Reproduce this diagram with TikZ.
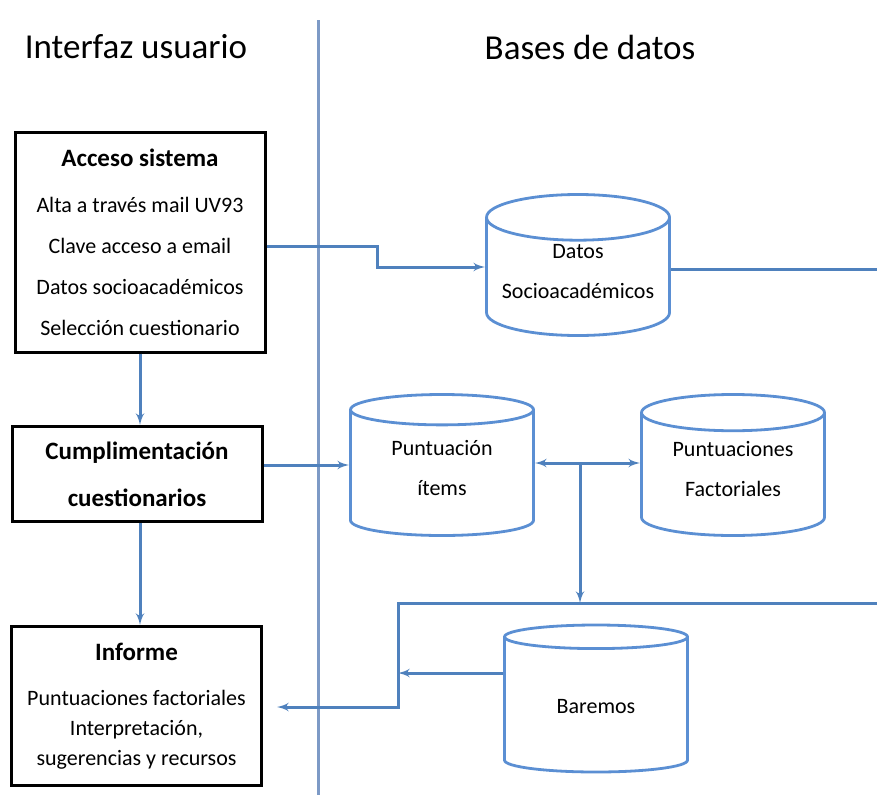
\documentclass[tikz,border=0pt]{standalone}
\usepackage{fontspec}
\setmainfont{Carlito}
\usepackage{tikz}
\usetikzlibrary{arrows}
\usetikzlibrary{shapes.geometric}

\definecolor{azul}{HTML}{4F81BD}
\definecolor{cilindro}{HTML}{5B8FD3}
\definecolor{divisor}{HTML}{7D9AC6}

\newcommand{\textobd}[2][1pt]{\raisebox{#1}[0pt][0pt]{\begin{tabular}{@{}c@{}}#2\end{tabular}}}

\begin{document}
\begin{tikzpicture}[x = 1pt, y = -1pt,
    caja/.style = {draw, line width = 3pt, minimum width = 250pt, inner sep = 0pt, align = center},
    bd/.style = {cylinder, shape border rotate = 90, aspect = 0.3, draw = cilindro, fill = white,
        line width = 2.8pt, minimum width = 183pt, minimum height = 141pt, inner sep = 0pt,
        anchor = shape center, font = \fontsize{22}{40}\selectfont},
    conector/.style = {draw = azul, line width = 3pt},
    flecha/.style = {conector, -latex'}]
    \useasboundingbox (0, 0) rectangle (877, 795);

    %% titulos
    \draw[divisor, line width = 3pt] (318, 20) -- (318, 795);
    \node[font = \fontsize{35}{40}\selectfont] (tusuario) at (136, 47) {Interfaz usuario};
    \node[font = \fontsize{35}{40}\selectfont] (tdatos) at (590, 47) {Bases de datos};

    %% interfaz
    \node[caja, minimum height = 220pt, font = \fontsize{22}{41}\selectfont] (acceso) at (140, 242)
        {\textbf{\fontsize{25}{30}\selectfont Acceso sistema}\\[5pt]
         Alta a través mail UV93\\ Clave acceso a email\\
         Datos socioacadémicos\\ Selección cuestionario};
    \node[caja, minimum height = 95pt, font = \fontsize{25}{47}\selectfont\bfseries] (cumpl) at (137, 474)
        {Cumplimentación\\ cuestionarios};
    \node[caja, minimum height = 159pt, font = \fontsize{22}{30}\selectfont] (informe) at (136.5, 706)
        {\textbf{\fontsize{25}{30}\selectfont Informe}\\[15pt]
         Puntuaciones factoriales\\ Interpretación,\\ sugerencias y recursos};

    %% bases de datos
    \node[bd] (datos) at (578, 265) {\textobd{Datos\\ Socioacadémicos}};
    \node[bd] (items) at (442, 465) {\textobd{Puntuación\\ ítems}};
    \node[bd] (factor) at (733, 465) {\textobd{Puntuaciones\\ Factoriales}};
    \node[bd, minimum height = 147pt] (baremos) at (596, 698.5) {\textobd[-6pt]{Baremos}};

    \coordinate (rama) at (580, 463);
    \coordinate (esquina) at (398, 603);
    \coordinate (borde) at (877, 603);

    %% conectores
    \draw[flecha] (acceso.south) -- (acceso.south |- cumpl.north);
    \draw[flecha] (acceso.south |- cumpl.south) -- (acceso.south |- informe.north);
    \draw[flecha] ([yshift = -4pt]acceso.east) -- ++(111, 0) |- (datos.west |- 0, 267);
    \draw[flecha] (cumpl.east |- 0, 465) -- (items.west |- 0, 465);
    \draw[conector, latex'-latex'] (items.east |- rama) -- (factor.west |- rama);
    \draw[conector] (datos.east |- 0, 269) -- (borde |- 0, 269);
    \draw[flecha] (rama) -- (rama |- esquina);
    \draw[flecha] (borde) -- (esquina) |- ([xshift = 14pt, yshift = -1pt]informe.east);
    \draw[flecha] (baremos.west |- 0, 673) -- (esquina |- 0, 673);
\end{tikzpicture}
\end{document}
